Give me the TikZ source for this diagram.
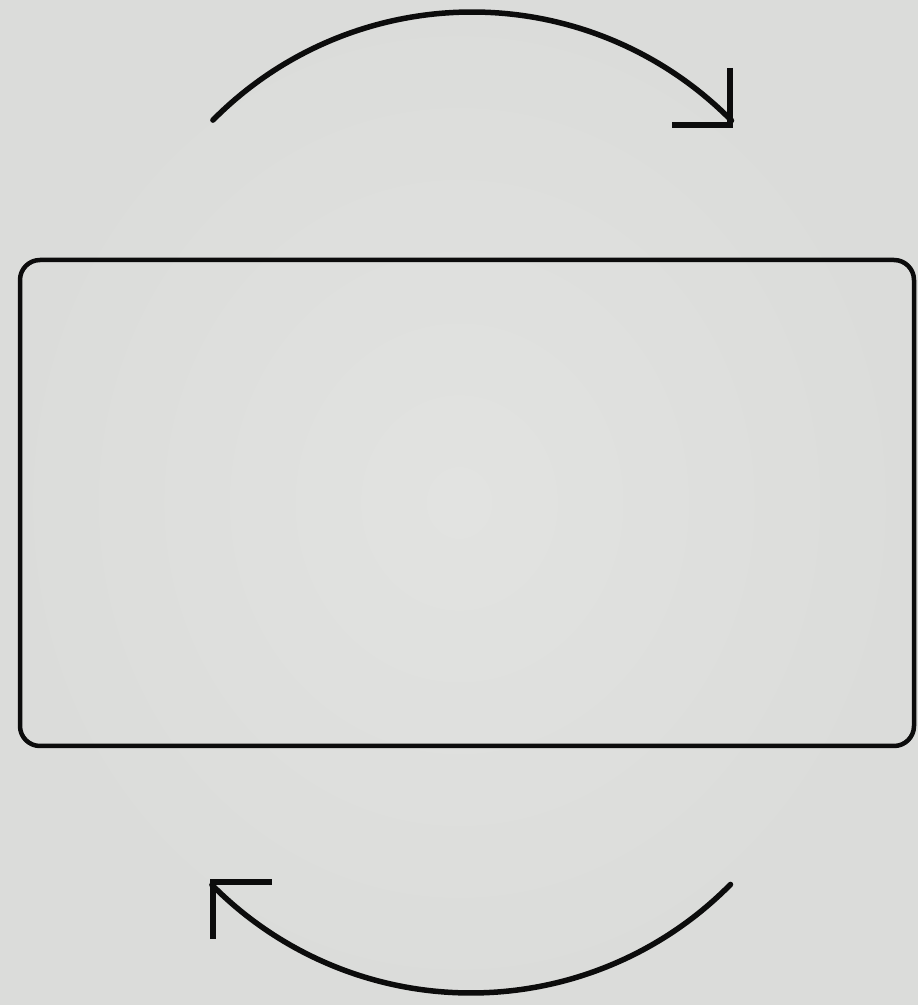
\documentclass[tikz,border=0pt]{standalone}
\usetikzlibrary{calc}
\definecolor{bg}{RGB}{219,220,218}
\definecolor{bglight}{RGB}{226,227,225}
\definecolor{ink}{RGB}{12,12,12}
\begin{document}
\begin{tikzpicture}[x=1pt,y=1pt,
  frame/.style={draw=ink,line width=4.5pt,rounded corners=20pt,minimum width=894pt,minimum height=486pt,inner sep=0pt},
  loop/.style={draw=ink,line width=5.5pt,line cap=round},
  barb/.style={draw=ink,line width=5.5pt,line join=miter,line cap=butt}]
\useasboundingbox (0,0) rectangle (918,1005);
\shade[inner color=bglight,outer color=bg] (0,0) rectangle (918,1005);
\node[frame] (box) at (467,502) {};
% top arrow
\coordinate (tc) at (472,628.5);
\coordinate (ts) at ($(tc)+(135.3:364.5)$);
\coordinate (te) at (730,880);
\draw[loop] (ts) arc[start angle=135.3, end angle=44.6, radius=364.5];
\draw[barb] ($(te)+(0,57)$) -- (te) -- ($(te)+(-58,0)$);
% bottom arrow
\coordinate (bc) at (471,376.5);
\coordinate (bs) at ($(bc)+(-44.6:364.5)$);
\coordinate (be) at (213,123);
\draw[loop] (bs) arc[start angle=-44.6, end angle=-135.3, radius=364.5];
\draw[barb] ($(be)+(0,-57)$) -- (be) -- ($(be)+(59,0)$);
\end{tikzpicture}
\end{document}
